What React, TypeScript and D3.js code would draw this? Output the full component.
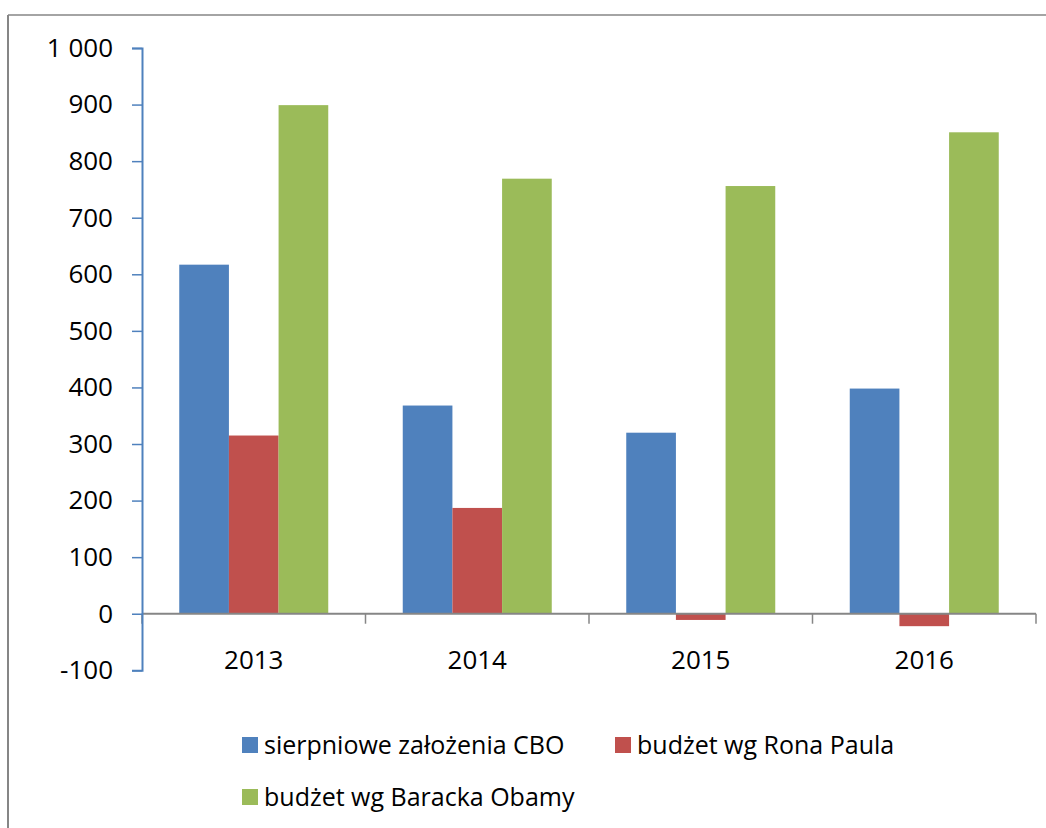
import React, { useEffect, useRef } from 'react';
import * as d3 from 'd3';

// data
const years = ['2013', '2014', '2015', '2016'];
const seriesNames = ['sierpniowe założenia CBO', 'budżet wg Rona Paula', 'budżet wg Baracka Obamy'];
const cboValues = [617, 368, 320, 398];
const paulValues = [315, 187, -11, -22];
const obamaValues = [899, 769, 756, 851];
const yTicks = [-100, 0, 100, 200, 300, 400, 500, 600, 700, 800, 900, 1000];
const colors = ['#4F81BD', '#C0504D', '#9BBB59'];

const FONT = '"Open Sans", sans-serif';

function App() {
  const svgRef = useRef<SVGSVGElement>(null);

  useEffect(() => {
    const width = 1046;
    const height = 828;
    const left = 142;
    const right = 1036;
    const top = 48;
    const bottom = 670.3;

    const svg = d3.select(svgRef.current)
      .attr('width', width)
      .attr('height', height);
    svg.selectAll('*').remove();

    // outer frame (only top and left edges are visible)
    svg.append('line')
      .attr('x1', 8).attr('x2', width).attr('y1', 15).attr('y2', 15)
      .attr('stroke', '#868686').attr('stroke-width', 1.5);
    svg.append('line')
      .attr('x1', 8).attr('x2', 8).attr('y1', 15).attr('y2', height)
      .attr('stroke', '#868686').attr('stroke-width', 2);

    const x0 = d3.scaleBand().domain(years).range([left, right]);
    const x1 = d3.scaleBand()
      .domain(seriesNames)
      .range([0, x0.bandwidth()])
      .paddingInner(0)
      .paddingOuter(0.75);
    const y = d3.scaleLinear().domain([-100, 1000]).range([bottom, top]);

    const rows = years.map((yr, i) => ({
      year: yr,
      values: [cboValues[i], paulValues[i], obamaValues[i]],
    }));

    // bars
    const groups = svg.append('g')
      .selectAll('g')
      .data(rows)
      .enter()
      .append('g')
      .attr('transform', d => `translate(${x0(d.year)},0)`);

    groups.selectAll('rect')
      .data(d => d.values.map((v, k) => ({ v, name: seriesNames[k], k })))
      .enter()
      .append('rect')
      .attr('x', d => x1(d.name)!)
      .attr('width', x1.bandwidth())
      .attr('y', d => y(Math.max(0, d.v)))
      .attr('height', d => Math.abs(y(d.v) - y(0)))
      .attr('fill', d => colors[d.k]);

    // x axis (gray) at zero
    const xAxis = svg.append('g');
    xAxis.append('line')
      .attr('x1', left).attr('x2', right)
      .attr('y1', y(0)).attr('y2', y(0))
      .attr('stroke', '#868686').attr('stroke-width', 2);
    const boundaries = [...years.map(yr => x0(yr)!), right];
    xAxis.selectAll('.xt')
      .data(boundaries)
      .enter()
      .append('line')
      .attr('class', 'xt')
      .attr('x1', d => d).attr('x2', d => d)
      .attr('y1', y(0)).attr('y2', y(0) + 10)
      .attr('stroke', '#868686').attr('stroke-width', 1.5);
    xAxis.selectAll('.xl')
      .data(years)
      .enter()
      .append('text')
      .attr('class', 'xl')
      .attr('x', d => x0(d)! + x0.bandwidth() / 2)
      .attr('y', 669)
      .attr('text-anchor', 'middle')
      .style('font-family', FONT)
      .style('font-size', '26px')
      .attr('fill', '#000')
      .text(d => d);

    // y axis (blue)
    const yAxis = svg.append('g')
      .attr('transform', `translate(${left},0)`)
      .call(d3.axisLeft(y)
        .tickValues(yTicks)
        .tickSize(10)
        .tickPadding(19)
        .tickSizeOuter(10)
        .tickFormat(d => (d === 1000 ? '1 000' : String(d))));
    yAxis.select('.domain').attr('stroke', '#4F81BD').attr('stroke-width', 2);
    yAxis.selectAll('.tick line').attr('stroke', '#4F81BD').attr('stroke-width', 1.5);
    yAxis.selectAll('.tick text')
      .style('font-family', FONT)
      .style('font-size', '26px')
      .attr('fill', '#000');

    // legend
    const legendItems = [
      { name: seriesNames[0], color: colors[0], x: 242, y: 737 },
      { name: seriesNames[1], color: colors[1], x: 615, y: 737 },
      { name: seriesNames[2], color: colors[2], x: 242, y: 789 },
    ];
    const legend = svg.append('g')
      .selectAll('g')
      .data(legendItems)
      .enter()
      .append('g')
      .attr('transform', d => `translate(${d.x},${d.y})`);
    legend.append('rect')
      .attr('width', 16).attr('height', 16)
      .attr('fill', d => d.color);
    legend.append('text')
      .attr('x', 22)
      .attr('y', 17)
      .style('font-family', FONT)
      .style('font-size', '25px')
      .attr('fill', '#000')
      .text(d => d.name);
  }, []);

  return (
    <svg
      ref={svgRef}
      style={{ position: 'absolute', left: 0, top: 0, display: 'block', background: '#fff' }}
    />
  );
}

export default App;
